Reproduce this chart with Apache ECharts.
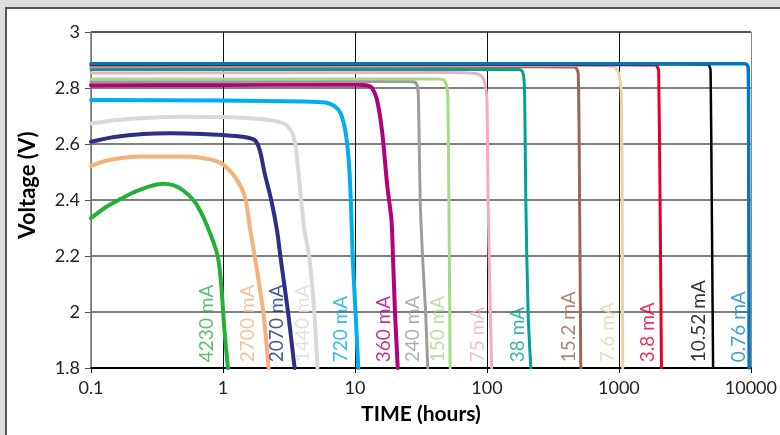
<!DOCTYPE html>
<html>
<head>
<meta charset="utf-8">
<script src="https://cdn.jsdelivr.net/npm/echarts@6/dist/echarts.min.js"></script>
<style>
html,body{margin:0;padding:0;background:#dedede;}
#chart{width:780px;height:435px;}
</style>
</head>
<body>
<div id="chart"></div>
<script>
// Discharge curves: [time (hours), voltage (V)]
const c4230 = [[0.1,2.335],[0.13,2.375],[0.17,2.405],[0.21,2.427],[0.27,2.447],[0.35,2.458],[0.42,2.453],[0.5,2.434],[0.6,2.398],[0.7,2.345],[0.8,2.28],[0.87,2.233],[0.92,2.19],[0.96,2.12],[0.99,2.04],[1.02,1.95],[1.06,1.86],[1.09,1.8]];
const c2700 = [[0.1,2.522],[0.13,2.54],[0.17,2.55],[0.25,2.555],[0.45,2.555],[0.7,2.55],[0.98,2.53],[1.23,2.483],[1.47,2.41],[1.6,2.3],[1.74,2.2],[2.02,2.0],[2.22,1.8]];
const c2070 = [[0.1,2.608],[0.15,2.625],[0.25,2.636],[0.4,2.638],[0.7,2.636],[1.0,2.632],[1.4,2.626],[1.74,2.614],[1.9,2.578],[2.07,2.495],[2.32,2.4],[2.57,2.29],[2.72,2.2],[3.11,2.0],[3.49,1.8]];
const c1440 = [[0.1,2.673],[0.15,2.685],[0.25,2.693],[0.5,2.697],[1.0,2.696],[1.6,2.692],[2.3,2.685],[2.94,2.672],[3.37,2.638],[3.58,2.578],[3.8,2.46],[4.14,2.293],[4.5,2.2],[4.92,2.0],[5.2,1.8]];
const c720 = [[0.1,2.757],[1,2.755],[4,2.752],[6.0,2.748],[7.0,2.735],[7.8,2.709],[8.5,2.64],[9.04,2.52],[9.4,2.34],[9.6,2.2],[10.1,2.0],[10.6,1.8]];
const c360 = [[0.1,2.81],[1,2.811],[5,2.812],[10,2.812],[12.5,2.809],[13.5,2.8],[14.7,2.757],[16.1,2.64],[17.6,2.447],[18.9,2.33],[19.4,2.2],[20.1,2.0],[21.1,1.8]];
const c240 = [[0.1,2.822],[10,2.823],[25,2.823],[28.6,2.82],[29.8,2.804],[30.3,2.757],[31.2,2.4],[32.5,2.2],[34.3,2.0],[35.6,1.8]];
const c150 = [[0.1,2.832],[40,2.832],[46.6,2.83],[49.7,2.805],[50.6,2.757],[51.5,2.4],[52.6,1.8]];
const c75 = [[0.1,2.854],[50,2.855],[80,2.853],[92,2.84],[97,2.81],[100,2.76],[102,2.4],[105,2.1],[108.5,1.8]];
const c38 = [[0.1,2.866],[100,2.866],[175,2.866],[185,2.86],[190,2.84],[193,2.78],[197,2.4],[205,2.0],[215,1.8]];
const c15_2 = [[0.1,2.875],[200,2.876],[460,2.875],[480,2.868],[492,2.85],[500,2.6],[507,2.2],[514,1.8]];
const c7_6 = [[0.1,2.879],[500,2.88],[850,2.879],[950,2.87],[1010,2.84],[1045,2.757],[1060,2.3],[1070,1.8]];
const c3_8 = [[0.1,2.882],[1000,2.883],[1900,2.882],[1960,2.875],[2000,2.86],[2050,2.4],[2100,1.8]];
const c10_52 = [[0.1,2.884],[3000,2.885],[4700,2.884],[4850,2.878],[4950,2.86],[5050,2.4],[5170,1.8]];
const c0_76 = [[0.1,2.887],[5000,2.887],[9000,2.887],[9350,2.883],[9550,2.87],[9620,2.6],[9700,1.8]];

const seriesNames = ['4230 mA','2700 mA','2070 mA','1440 mA','720 mA','360 mA','240 mA','150 mA','75 mA','38 mA','15.2 mA','7.6 mA','3.8 mA','10.52 mA','0.76 mA'];
const seriesData = [c4230,c2700,c2070,c1440,c720,c360,c240,c150,c75,c38,c15_2,c7_6,c3_8,c10_52,c0_76];
// label anchor positions (time) along the bottom of the plot
const labelTimes = [0.764,1.555,2.57,4.10,7.91,16.6,27.9,43.0,85.9,171.8,419.5,837,1675,4102,8200];
const labelVoltage = 1.819;

const xTicks = [0.1,1,10,100,1000,10000];
const yMin = 1.8, yMax = 3, yStep = 0.2;

const lineColors = ['#22b03a','#f6b07c','#2e2e86','#d9d9d9','#00aeef','#b4007c','#9c9c9c','#a8d88a','#f6a9c4','#00a393','#9b6657','#e9d2ac','#e2002a','#000000','#0077c0'];
const labelColors = ['#2db24a','#f6b07c','#1a2a8a','#d9d9d9','#00aeef','#b4007c','#9c9c9c','#a8d88a','#f6a9c4','#00a393','#9b6657','#e9d2ac','#e2002a','#000000','#0a86d0'];
const lineWidths = [4,4,4,4,4,4,3,3,3,3,3,3,3,2.5,3.5];

const chart = echarts.init(document.getElementById('chart'));
const FONT = 'Lato';

const series = seriesNames.map((n, i) => ({
  name: n,
  type: 'line',
  data: seriesData[i],
  showSymbol: false,
  smooth: 0.25,
  lineStyle: { color: lineColors[i], width: lineWidths[i], join: 'round', cap: 'round' },
  z: 3 + i,
  silent: true
}));

series.push({
  type: 'scatter',
  symbolSize: 1,
  itemStyle: { color: 'rgba(0,0,0,0)' },
  z: 30,
  silent: true,
  data: seriesNames.map((n, i) => ({
    name: n,
    value: [labelTimes[i], labelVoltage],
    label: { color: labelColors[i] }
  })),
  label: {
    show: true,
    formatter: p => p.name,
    rotate: 90,
    position: [0, 0],
    align: 'left',
    verticalAlign: 'middle',
    fontFamily: FONT,
    fontSize: 19
  }
});

const fmt = v => String(parseFloat(Number(v).toPrecision(4)));

chart.setOption({
  backgroundColor: '#dedede',
  animation: false,
  graphic: [
    { type: 'rect', z: -100, shape: { x: 6, y: 8, width: 800, height: 500 },
      style: { fill: '#ffffff', stroke: '#555555', lineWidth: 2 } },
    { type: 'text', z: 100, x: 28, y: 185, rotation: Math.PI / 2,
      style: { text: 'Voltage (V)', fontFamily: FONT, fontWeight: 'bold', fontSize: 22,
               fill: '#000', align: 'center', verticalAlign: 'middle' } }
  ],
  grid: { left: 91, top: 32, width: 665, height: 336, containLabel: false },
  xAxis: {
    type: 'log',
    logBase: 10,
    min: xTicks[0],
    max: xTicks[xTicks.length - 1],
    name: 'TIME (hours)',
    nameLocation: 'middle',
    nameGap: 36,
    nameTextStyle: { fontFamily: FONT, fontWeight: 'bold', fontSize: 21, color: '#000' },
    axisLine: { show: true, lineStyle: { color: '#000', width: 2 } },
    axisTick: { show: true, length: 5, lineStyle: { color: '#000', width: 1 } },
    axisLabel: { fontFamily: FONT, fontSize: 18, color: '#222', margin: 11, formatter: fmt },
    splitLine: { show: true, lineStyle: { color: ['#777','#111','#111','#111','#111','#888'], width: 1 } },
    minorTick: { show: false },
    minorSplitLine: { show: false }
  },
  yAxis: {
    type: 'value',
    min: yMin,
    max: yMax,
    interval: yStep,
    axisLine: { show: true, lineStyle: { color: '#777', width: 1.5 } },
    axisTick: { show: true, length: 6, lineStyle: { color: '#555', width: 1 } },
    axisLabel: { fontFamily: FONT, fontSize: 18, color: '#222', margin: 11,
                 formatter: v => String(parseFloat(v.toFixed(1))) },
    splitLine: { show: true, lineStyle: { color: ['#7f7f7f','#7f7f7f','#7f7f7f','#7f7f7f','#7f7f7f','#7f7f7f','#555555'], width: 1.8 } }
  },
  series: series
});
</script>
</body>
</html>
